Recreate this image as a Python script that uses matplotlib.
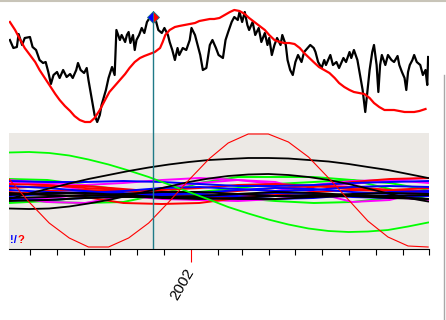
import datetime as dt
import matplotlib
matplotlib.use('Agg')
import matplotlib.pyplot as plt
import matplotlib.dates as mdates
import matplotlib.ticker as mticker
from matplotlib.lines import Line2D

plt.rcParams['font.family'] = ['Liberation Sans', 'DejaVu Sans']

start = dt.date(2001, 6, 7)
end = dt.date(2002, 10, 1)

# top panel: price and its moving average (day offsets from start)
price_days = [1, 5, 9, 11, 15, 18, 24, 27, 31, 35,
              39, 42, 45, 48, 51, 55, 58, 62, 66, 70,
              73, 77, 79, 82, 86, 89, 91, 95, 98, 101,
              104, 106, 111, 114, 118, 121, 123, 127, 129, 133,
              135, 137, 139, 142, 144, 146, 149, 152, 155, 158,
              161, 165, 168, 171, 175, 178, 182, 184, 187, 190,
              193, 195, 199, 203, 207, 209, 213, 216, 219, 222,
              226, 230, 233, 237, 240, 245, 248, 251, 255, 258,
              262, 264, 267, 270, 273, 275, 279, 282, 286, 289,
              293, 296, 298, 301, 304, 307, 311, 313, 317, 319,
              322, 325, 328, 331, 335, 338, 342, 345, 349, 351,
              354, 358, 361, 363, 368, 371, 375, 378, 383, 386,
              390, 392, 395, 399, 402, 405, 408, 410, 413, 416,
              418, 421, 423, 425, 427, 431, 434, 438, 441, 445,
              447, 450, 453, 455, 457, 459, 462, 464, 467, 471,
              474, 477, 479, 480]
price = [90, 82, 83, 96, 85, 92, 93, 83, 80, 70,
         67, 68, 58, 46, 55, 58, 52, 60, 53, 56,
         52, 60, 67, 60, 57, 62, 50, 30, 15, 8,
         15, 25, 40, 52, 63, 55, 100, 90, 95, 88,
         95, 98, 87, 95, 80, 90, 95, 102, 97, 108,
         112, 115, 110, 100, 97, 102, 95, 88, 80, 70,
         82, 75, 82, 80, 90, 102, 95, 85, 75, 60,
         62, 85, 90, 82, 75, 72, 90, 98, 108, 113,
         110, 118, 108, 118, 105, 100, 108, 95, 102, 88,
         97, 85, 92, 75, 85, 92, 85, 95, 85, 70,
         60, 55, 68, 75, 68, 78, 82, 85, 82, 78,
         68, 62, 70, 65, 75, 65, 68, 62, 72, 68,
         78, 72, 80, 70, 55, 40, 18, 35, 60, 78,
         85, 65, 38, 65, 75, 65, 75, 70, 68, 74,
         65, 58, 52, 40, 58, 65, 70, 75, 68, 65,
         55, 60, 45, 73]

avg_days = [1, 7, 13, 18, 24, 30, 35, 41, 47, 53,
            58, 64, 70, 75, 81, 87, 93, 98, 104, 110,
            115, 121, 127, 133, 138, 144, 150, 155, 161, 167,
            173, 176, 179, 184, 190, 195, 201, 207, 213, 218,
            224, 230, 235, 241, 245, 253, 258, 264, 270, 275,
            281, 287, 293, 298, 304, 310, 315, 321, 327, 333,
            338, 344, 350, 355, 361, 367, 373, 378, 384, 390,
            395, 401, 407, 413, 418, 424, 430, 435, 441, 447,
            453, 458, 464, 470, 477]
avg = [108, 100, 90, 82, 75, 68, 60, 52, 44, 36,
       30, 24, 19, 14, 10, 8, 8, 12, 20, 30,
       38, 44, 50, 56, 62, 68, 72, 74, 76, 78,
       82, 88, 95, 100, 103, 104, 105, 106, 107, 109,
       110, 111, 111, 112, 114, 118, 120, 119, 116, 112,
       108, 104, 100, 95, 90, 88, 87, 87, 86, 82,
       77, 72, 67, 63, 60, 57, 52, 47, 43, 40,
       38, 37, 36, 32, 27, 23, 20, 20, 20, 19,
       18, 18, 18, 19, 21]

cursor_day = 165
cursor_val = 113

# bottom panel: cycle components
wave_days = [0, 23, 46, 69, 91, 114, 137, 160, 183, 206, 229,
             251, 274, 297, 320, 343, 366, 389, 411, 434, 457, 480]
red_wave = [11, -12, -33, -48, -57, -57, -48, -33, -12, 10, 31,
            47, 56, 56, 48, 33, 12, -10, -31, -47, -56, -57]
green_wave = [37.5, 38, 37, 34.5, 30.5, 25.5, 19.5, 13, 5.5, -2, -9.5,
              -17, -23.5, -29.5, -34.5, -38.5, -41, -42, -41.5, -40, -36.5, -32.5]
black_wave1 = [-9, -3.5, 1.5, 6.5, 11, 15, 19, 22.5, 25.5, 28, 30,
               31, 32, 32, 31.5, 30, 28.5, 26, 23, 20, 16, 12]
black_wave2 = [-18.5, -19, -18.5, -16.5, -13.5, -10, -5.5, -1, 3.5, 8, 11.5,
               14, 15.5, 16, 15, 13, 10, 6, 1.5, -3.5, -8, -11.5]

small_days = [0, 44, 87, 131, 175, 218, 262, 305, 349, 393, 436, 481]
small_blue = [
    [9, 8, 8, 9, 8, 6, 4, 4, 5, 7, 8, 9],
    [0, -2, -3, -1, 2, 3, 1, -1, 0, 3, 4, 3],
    [-6, -4, -2, -3, -6, -7, -5, -3, -4, -7, -8, -6],
    [-9, -10, -8, -5, -3, -4, -7, -9, -8, -5, -2, -1],
    [4, 2, -1, -4, -5, -3, 0, 2, 1, -2, -4, -3],
]
small_red = [
    [2, 4, 4, 1, -2, -3, -1, 2, 4, 3, 0, -1],
    [-2, -5, -7, -13, -14, -13, -8, -3, 3, 8, 11, 12],
    [-4, -1, 0, -1, -4, -7, -7, -5, -2, 0, -1, -3],
    [6, 5, 2, 0, 0, 2, 5, 6, 4, 1, 0, 2],
]
small_magenta = [
    [8, 6, 0, -6, -9, -10, -7, -1, 5, 9, 10, 7],
    [-7, -12, -13, -6, 2, 7, 10, 8, -2, -12, -10, 0],
    [10, 7, 5, 7, 10, 12, 10, 6, 4, 6, 10, 12],
    [-10, -8, -5, -4, -7, -10, -11, -9, -6, -5, -7, -10],
]
small_black = [
    [-3, -5, -6, -4, -2, -2, -4, -6, -6, -4, -3, -4],
    [-8, -7, -5, -6, -8, -9, -8, -6, -5, -6, -8, -9],
    [-11, -10, -8, -7, -7, -8, -9, -9, -7, -6, -7, -9],
    [-5, -3, -3, -5, -7, -6, -4, -2, -3, -5, -6, -5],
]
small_green = [
    [-7, -12, -13, -12, -4, 7, 13, 13, 13, 10, 1, -10],
    [11, 10, 5, 0, -3, -2, 2, 6, 8, 10, 7, 0],
    [-13, -11, -7, -4, -3, -5, -8, -11, -13, -12, -8, -4],
]

assert len(price_days) == len(price)
assert len(avg_days) == len(avg)


def to_dates(days):
    return [start + dt.timedelta(days=d) for d in days]


fig = plt.figure(figsize=(4.46, 3.2), dpi=100)
ax1 = fig.add_axes([9 / 446, 1 - 132 / 320, 420 / 446, 128 / 320])
ax2 = fig.add_axes([9 / 446, 1 - 249 / 320, 420 / 446, 116 / 320])

cursor_date = start + dt.timedelta(days=cursor_day)
teal = '#1f7a88'

# --- top panel
ax1.axis('off')
ax1.set_xlim(start, end)
ax1.set_ylim(-2, 126)
ax1.plot(to_dates(price_days), price, color='black', lw=1.6, zorder=2)
ax1.plot(to_dates(avg_days), avg, color='red', lw=1.6, zorder=3)
ax1.plot([cursor_date, cursor_date], [cursor_val, -4], color=teal, lw=1,
         clip_on=False, zorder=4)
ax1.plot(cursor_date, cursor_val, marker='D', markersize=6.5, fillstyle='left',
         markerfacecolor='blue', markerfacecoloralt='red',
         markeredgecolor=teal, markeredgewidth=0.6, zorder=5)

# --- bottom panel
ax2.set_facecolor('#ece9e5')
ax2.set_xlim(start, end)
ax2.set_ylim(-59, 57)
for s in ['top', 'left', 'right']:
    ax2.spines[s].set_visible(False)
ax2.spines['bottom'].set_linewidth(0.8)
ax2.set_yticks([])

sd = to_dates(small_days)
for vals in small_green:
    ax2.plot(sd, vals, color='#00ff00', lw=1.4)
for vals in small_magenta:
    ax2.plot(sd, vals, color='#ff00ff', lw=1.4)
for vals in small_red:
    ax2.plot(sd, vals, color='red', lw=1.4)
for vals in small_blue:
    ax2.plot(sd, vals, color='blue', lw=1.4)
for vals in small_black:
    ax2.plot(sd, vals, color='black', lw=1.4)

wd = to_dates(wave_days)
ax2.plot(wd, green_wave, color='#00ff00', lw=1.3)
ax2.plot(wd, black_wave1, color='black', lw=1.3)
ax2.plot(wd, black_wave2, color='black', lw=1.3)
ax2.plot(wd, red_wave, color='red', lw=0.8)

ax2.axvline(cursor_date, color=teal, lw=1, zorder=4)

year_tick = dt.date(2002, 1, 1)
ax2.xaxis.set_major_locator(mticker.FixedLocator([mdates.date2num(year_tick)]))
ax2.xaxis.set_major_formatter(mticker.FixedFormatter(['2002']))
ax2.xaxis.set_minor_locator(mdates.MonthLocator(bymonth=range(2, 13)))
ax2.tick_params(axis='x', which='major', length=9.5, width=0.8, color='red',
                pad=5, labelsize=11)
ax2.tick_params(axis='x', which='minor', length=4, width=0.8, color='black')
for lbl in ax2.get_xticklabels():
    lbl.set_rotation(60)
    lbl.set_ha('right')
    lbl.set_va('center')
    lbl.set_rotation_mode('anchor')

t = ax2.text(0.003, 0.035, '!/', transform=ax2.transAxes, color='blue',
             fontsize=8, fontweight='bold', va='bottom', ha='left')
ax2.annotate('?', xy=(1, 0), xycoords=t, color='red', fontsize=8,
             fontweight='bold', va='bottom', ha='left')

# window edges
fig.add_artist(Line2D([0, 1], [1 - 1 / 320, 1 - 1 / 320], color='#c8c4b8', lw=1.5))
fig.add_artist(Line2D([443.5 / 446, 443.5 / 446], [0, 1 - 75 / 320], color='#a8a8a8', lw=1))

fig.savefig('out.png', dpi=100)
